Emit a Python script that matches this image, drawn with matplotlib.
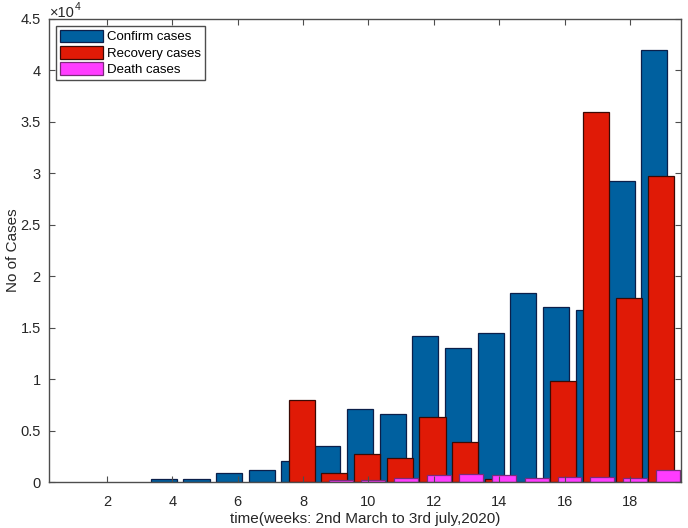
import numpy as np
import matplotlib.pyplot as plt

plt.rcParams['font.family'] = ['Liberation Sans', 'DejaVu Sans']

weeks = np.arange(1, 20)
confirm = np.array([0, 0, 0, 300, 300, 900, 1200, 2000, 3500, 7100, 6600,
                    14200, 13000, 14500, 18400, 17000, 16700, 29300, 42000])
recovery = np.array([0, 0, 0, 0, 0, 0, 0, 8000, 900, 2700, 2300,
                     6300, 3900, 300, 0, 9800, 36000, 17900, 29700])
death = np.array([0, 0, 0, 0, 0, 0, 0, 0, 150, 150, 400,
                  700, 800, 700, 400, 500, 500, 400, 1200])

x_ticks = [2, 4, 6, 8, 10, 12, 14, 16, 18]
y_ticks = np.arange(0, 45001, 5000)

axis_col = '#4d4d4d'
txt_col = '#262626'

fig = plt.figure(figsize=(6.88, 5.28), dpi=100)
ax = fig.add_axes([0.0712, 0.0871, 0.9186, 0.877])

# zero weeks are left out so no flat edge sits on the baseline
m = confirm > 0
ax.bar(weeks[m] - 0.26, confirm[m], width=0.8, color='#00609f',
       edgecolor='#0b1f4a', linewidth=0.9, label='Confirm cases')
m = recovery > 0
ax.bar(weeks[m] - 0.04, recovery[m], width=0.8, color='#e01a06',
       edgecolor='#3a0a05', linewidth=0.9, label='Recovery cases')
m = death > 0
ax.bar(weeks[m] + 0.15, death[m], width=0.73, color='#ff3cff',
       edgecolor='#7a2a7a', linewidth=0.9, label='Death cases')

ax.set_xlim(0.23, 19.56)
ax.set_ylim(0, 45000)
ax.set_xticks(x_ticks)
ax.set_yticks(y_ticks)
ax.set_yticklabels(['%g' % (v / 1e4) for v in y_ticks])
ax.tick_params(direction='in', top=True, right=True, length=4,
               color=axis_col, labelsize=10.5, labelcolor=txt_col)
ax.tick_params(axis='x', pad=9)
ax.tick_params(axis='y', pad=6)
for s in ax.spines.values():
    s.set_color(axis_col)
    s.set_linewidth(1.0)

# exponent label above the y axis, as MATLAB draws it
fig.text(50 / 688, 1 - 17 / 528, '\u00d710', fontsize=10.5, color=txt_col,
         ha='left', va='baseline')
fig.text(75 / 688, 1 - 10 / 528, '4', fontsize=7.5, color=txt_col,
         ha='left', va='baseline')

ax.set_xlabel('time(weeks: 2nd March to 3rd july,2020)', fontsize=11,
              color=txt_col)
ax.set_ylabel('No of Cases', fontsize=11, color=txt_col)
ax.xaxis.set_label_coords(0.5, -0.064)
ax.yaxis.set_label_coords(-0.046, 0.5)

leg = ax.legend(loc='upper left', fontsize=9.5, fancybox=False,
                framealpha=1, edgecolor=axis_col, handlelength=3.3,
                handleheight=1.1, handletextpad=0.3, borderpad=0.3,
                labelspacing=0.2, borderaxespad=0.5)
leg.get_frame().set_linewidth(1.0)

fig.savefig('out.png', dpi=100)
